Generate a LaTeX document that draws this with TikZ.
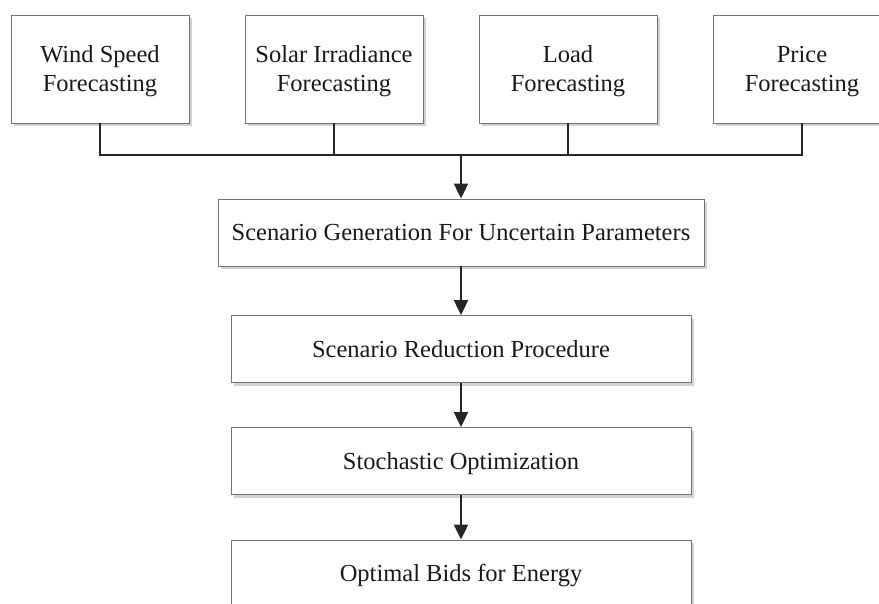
\documentclass[tikz,border=0pt]{standalone}
\usepackage{fontspec}
\setmainfont{Liberation Serif}
\usetikzlibrary{arrows.meta,shadows}

\begin{document}
\begin{tikzpicture}
[x=1pt,y=-1pt,
 box/.style={draw=gray!90!black,line width=.9pt,fill=white,inner sep=0pt,text=black!90,
   font=\fontsize{24.5}{29}\selectfont,align=center,
   drop shadow={shadow xshift=3pt,shadow yshift=-3pt,fill=black!25,opacity=.7}},
 fbox/.style={box,minimum width=178pt,minimum height=108pt,text height=46pt,text depth=2pt},
 sbox/.style={box,minimum width=460pt,minimum height=67pt,text height=16pt,text depth=0pt},
 link/.style={line width=2.2pt,black!85},
 arr/.style={link,-{Triangle[length=15pt,width=14pt]}}]
\useasboundingbox (0,0) rectangle (879,603);
\clip (0,0) rectangle (879,603);

\node[fbox] (f1) at (100,69) {Wind Speed\\Forecasting};
\node[fbox] (f2) at (334,69) {Solar Irradiance\\Forecasting};
\node[fbox] (f3) at (568,69) {Load\\Forecasting};
\node[fbox] (f4) at (802,69) {Price\\Forecasting};

\coordinate (j) at (461,155);

\node[sbox,minimum width=486pt] (b1) at (461,232.5) {Scenario Generation For Uncertain Parameters};
\node[sbox] (b2) at (461,349) {Scenario Reduction Procedure};
\node[sbox] (b3) at (461,461) {Stochastic Optimization};
\node[sbox] (b4) at (461,573.5) {Optimal Bids for Energy};

\foreach \f in {f1,f2,f3,f4}
\draw[link] (\f.south) |- (j);
\draw[arr] (j) -- (b1);
\foreach \from/\to in {b1/b2,b2/b3,b3/b4}
\draw[arr] (\from) -- (\to);
\end{tikzpicture}
\end{document}
